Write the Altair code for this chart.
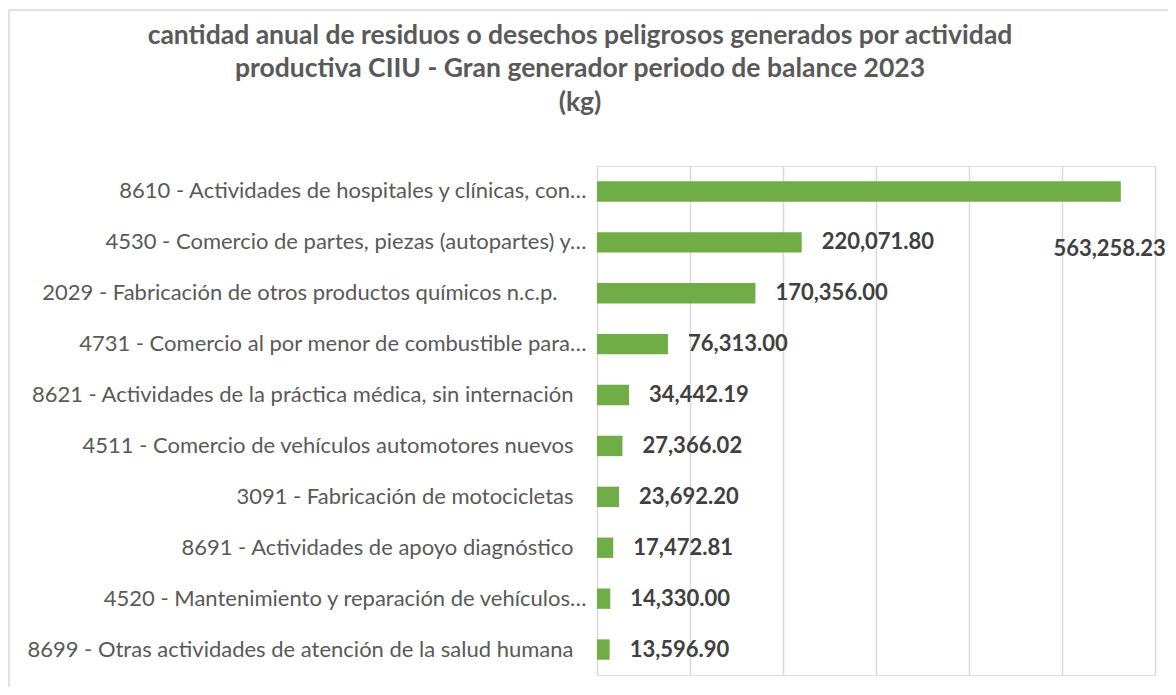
import altair as alt
import pandas as pd

categories = [
    "8610 - Actividades de hospitales y clínicas, con…",
    "4530 - Comercio de partes, piezas (autopartes) y…",
    "2029 - Fabricación de otros productos químicos n.c.p.",
    "4731 - Comercio al por menor de combustible para…",
    "8621 - Actividades de la práctica médica, sin internación",
    "4511 - Comercio de vehículos automotores nuevos",
    "3091 - Fabricación de motocicletas",
    "8691 - Actividades de apoyo diagnóstico",
    "4520 - Mantenimiento y reparación de vehículos…",
    "8699 - Otras actividades de atención de la salud humana",
]
values = [563258.23, 220071.80, 170356.00, 76313.00, 34442.19,
          27366.02, 23692.20, 17472.81, 14330.00, 13596.90]
x_ticks = [0, 100000, 200000, 300000, 400000, 500000, 600000]
title_lines = [
    "cantidad anual de residuos o desechos peligrosos generados  por actividad",
    "productiva CIIU - Gran generador periodo de balance  2023",
    "(kg)",
]

df = pd.DataFrame({"cat": categories, "v": values})

FONT = "Lato"
W, H = 558, 509
PAD_L, PAD_T = 589, 158
TOTAL_W, TOTAL_H = 1160, 679

label_padding = {
    "condition": [
        {"test": "slice(datum.value, -1) == '\\u2026'", "value": 11},
        {"test": "slice(datum.value, -6) == 'n.c.p.'", "value": 40},
    ],
    "value": 24,
}

x_enc = alt.X("v:Q", scale=alt.Scale(domain=[0, 600000], nice=False),
              axis=alt.Axis(values=x_ticks, labels=False, ticks=False, domain=False,
                            grid=True, gridColor="#d9d9d9", gridWidth=1.5, title=None))
y_enc = alt.Y("cat:N", sort=categories, scale=alt.Scale(paddingInner=0.6, paddingOuter=0.3),
              axis=alt.Axis(title=None, ticks=False, domain=False, labelLimit=700,
                            labelPadding=label_padding, labelFont=FONT, labelFontSize=22,
                            labelColor="#595959"))

base = alt.Chart(df)

bars = base.mark_bar(color="#70AD47").encode(x=x_enc, y=y_enc)

labels = base.transform_filter("datum.v < 500000").mark_text(
    align="left", baseline="middle", dx=20, font=FONT, fontSize=22,
    fontWeight="bold", color="#404040"
).encode(x="v:Q", y=alt.Y("cat:N", sort=categories), text=alt.Text("v:Q", format=",.2f"))

big_label = base.transform_filter("datum.v >= 500000").mark_text(
    align="right", baseline="middle", dx=45, dy=58, font=FONT, fontSize=22,
    fontWeight="bold", color="#404040"
).encode(x="v:Q", y=alt.Y("cat:N", sort=categories), text=alt.Text("v:Q", format=",.2f"))

frame = alt.Chart(alt.Data(values=[{}])).mark_rect(
    fill="transparent", stroke="#d9d9d9", strokeWidth=1.5
).encode(x=alt.value(-PAD_L + 1), x2=alt.value(W + 60),
         y=alt.value(-PAD_T + 2), y2=alt.value(H + 60))

chart = alt.layer(frame, bars, labels, big_label).properties(
    width=W, height=H,
    title=alt.Title(title_lines, anchor="middle", dx=-296, offset=-107,
                    font=FONT, fontSize=26.5, fontWeight="bold", color="#595959",
                    lineHeight=33.5),
    autosize=alt.AutoSizeParams(type="none"),
    padding={"left": PAD_L, "top": PAD_T, "right": TOTAL_W - PAD_L - W,
             "bottom": TOTAL_H - PAD_T - H},
).configure_view(stroke=None).configure(background="white")

chart.save("out.html", embed_options={"renderer": "svg", "actions": False})
